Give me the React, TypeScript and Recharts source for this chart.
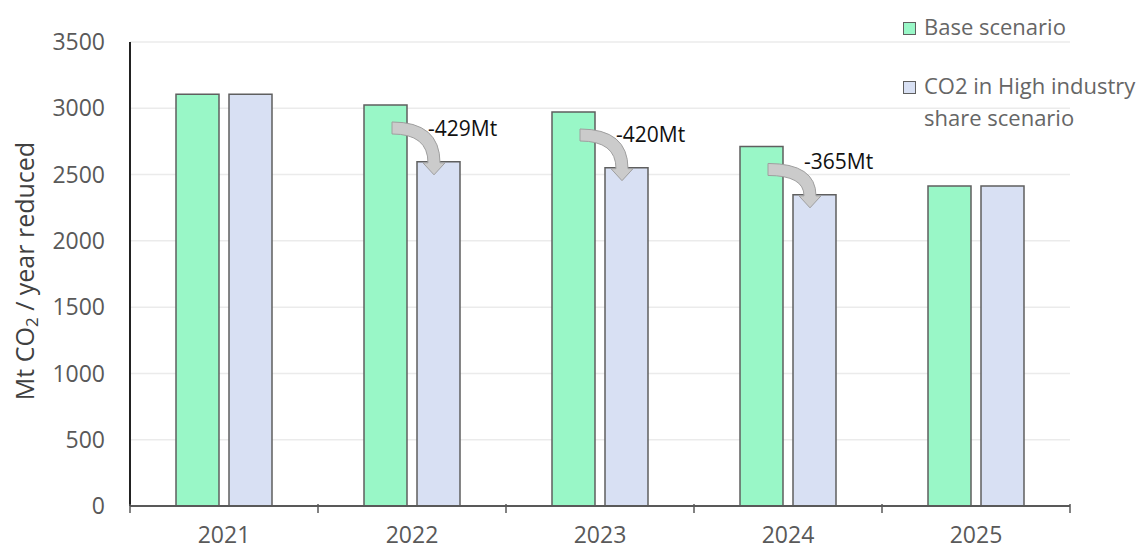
import { BarChart, Bar, XAxis, YAxis, CartesianGrid, LabelList } from 'recharts';

const years = ['2021', '2022', '2023', '2024', '2025'];
const baseScenario = [3105, 3025, 2972, 2712, 2413];
const highIndustry = [3105, 2596, 2552, 2347, 2413];
const reductions: (number | null)[] = [null, 429, 420, 365, null];
const yTicks = [0, 500, 1000, 1500, 2000, 2500, 3000, 3500];

const GREEN = '#99f7c7';
const LAVENDER = '#d8e0f3';
const EDGE = '#5f5f5f';
const TEXT = '#595959';
const FONT = '"Open Sans", sans-serif';
const BAR_GAP = 10;

const data = years.map((year, i) => ({
  year,
  base: baseScenario[i],
  high: highIndustry[i],
}));

const XTick = (props: any) => {
  const { x, y, payload, index } = props;
  const half = payload.offset || 0;
  return (
    <g>
      <line x1={x - half} x2={x - half} y1={y - 1} y2={y - 10} stroke={TEXT} strokeWidth={1.5} />
      {index === years.length - 1 && (
        <line x1={x + half} x2={x + half} y1={y - 1} y2={y - 10} stroke={TEXT} strokeWidth={1.5} />
      )}
      <text x={x} y={y + 29} textAnchor="middle" fill={TEXT} fontSize={23} fontFamily={FONT}>
        {payload.value}
      </text>
    </g>
  );
};

// curved arrow from the base bar to the high-industry bar, with the reduction text
const ReductionArrow = (props: any) => {
  const { x, y, height, index } = props;
  const cut = reductions[index];
  if (cut == null) return null;
  const bottom = y + height;
  const perUnit = height / highIndustry[index];
  const baseTop = bottom - baseScenario[index] * perUnit;
  const baseRight = x - BAR_GAP;
  const t = 12;
  const tx = baseRight - 15;
  const ty = baseTop + 17;
  const hx = x + 17;
  const tipY = y + 13;
  const headY = tipY - 12;
  const path = [
    `M ${tx} ${ty}`,
    `Q ${hx + t / 2} ${ty} ${hx + t / 2} ${headY}`,
    `L ${hx + 11} ${headY}`,
    `L ${hx} ${tipY}`,
    `L ${hx - 11} ${headY}`,
    `L ${hx - t / 2} ${headY}`,
    `Q ${hx - t / 2} ${ty + t} ${tx} ${ty + t}`,
    'Z',
  ].join(' ');
  return (
    <g>
      <path d={path} fill="#cbcbcb" stroke="#9f9f9f" strokeWidth={1} />
      <text x={x + 11} y={y - 26} fill="#111" fontSize={21} fontFamily={FONT}>
        {`-${cut}Mt`}
      </text>
    </g>
  );
};

const YTitle = (props: any) => {
  const { viewBox } = props;
  const cy = viewBox.y + viewBox.height / 2 - 3;
  const cx = 24;
  return (
    <text
      x={cx}
      y={cy}
      transform={`rotate(-90 ${cx} ${cy})`}
      textAnchor="middle"
      dominantBaseline="central"
      fill="#404040"
      fontSize={25}
      fontFamily={FONT}
    >
      Mt CO<tspan fontSize={17} dy={7}>2</tspan>
      <tspan dy={-7}> / year reduced</tspan>
    </text>
  );
};

const LegendItem = ({ color, lines, top }: { color: string; lines: string[]; top: number }) => (
  <div style={{ position: 'absolute', left: 903, top, display: 'flex', alignItems: 'flex-start' }}>
    <div
      style={{
        width: 13,
        height: 13,
        background: color,
        border: `1.5px solid ${EDGE}`,
        marginTop: 8,
        marginRight: 8,
        boxSizing: 'border-box',
      }}
    />
    <div
      style={{
        color: '#666',
        fontSize: 22,
        lineHeight: '32px',
        fontFamily: FONT,
        marginTop: -4,
        whiteSpace: 'nowrap',
      }}
    >
      {lines.map((l) => (
        <div key={l}>{l}</div>
      ))}
    </div>
  </div>
);

export default function App() {
  return (
    <div style={{ position: 'absolute', left: 0, top: 0, width: 1148, height: 551, background: '#fff' }}>
      <BarChart
        width={1148}
        height={551}
        data={data}
        margin={{ top: 42, right: 78, bottom: 0, left: 40 }}
        barSize={43}
        barGap={BAR_GAP}
      >
        <CartesianGrid vertical={false} stroke="#ebebeb" strokeWidth={1.5} />
        <XAxis
          dataKey="year"
          height={45}
          axisLine={{ stroke: TEXT, strokeWidth: 2 }}
          tickLine={false}
          tick={<XTick />}
          interval={0}
        />
        <YAxis
          domain={[0, 3500]}
          ticks={yTicks}
          width={90}
          axisLine={{ stroke: '#222', strokeWidth: 2 }}
          tickLine={false}
          tickSize={0}
          tickMargin={25}
          tick={{ fill: TEXT, fontSize: 23, fontFamily: FONT }}
          label={<YTitle />}
        />
        <Bar dataKey="base" fill={GREEN} stroke={EDGE} strokeWidth={1.5} isAnimationActive={false} />
        <Bar dataKey="high" fill={LAVENDER} stroke={EDGE} strokeWidth={1.5} isAnimationActive={false}>
          <LabelList dataKey="high" content={<ReductionArrow />} />
        </Bar>
      </BarChart>
      <LegendItem color={GREEN} lines={['Base scenario']} top={14} />
      <LegendItem color={LAVENDER} lines={['CO2 in High industry', 'share scenario']} top={73} />
    </div>
  );
}
